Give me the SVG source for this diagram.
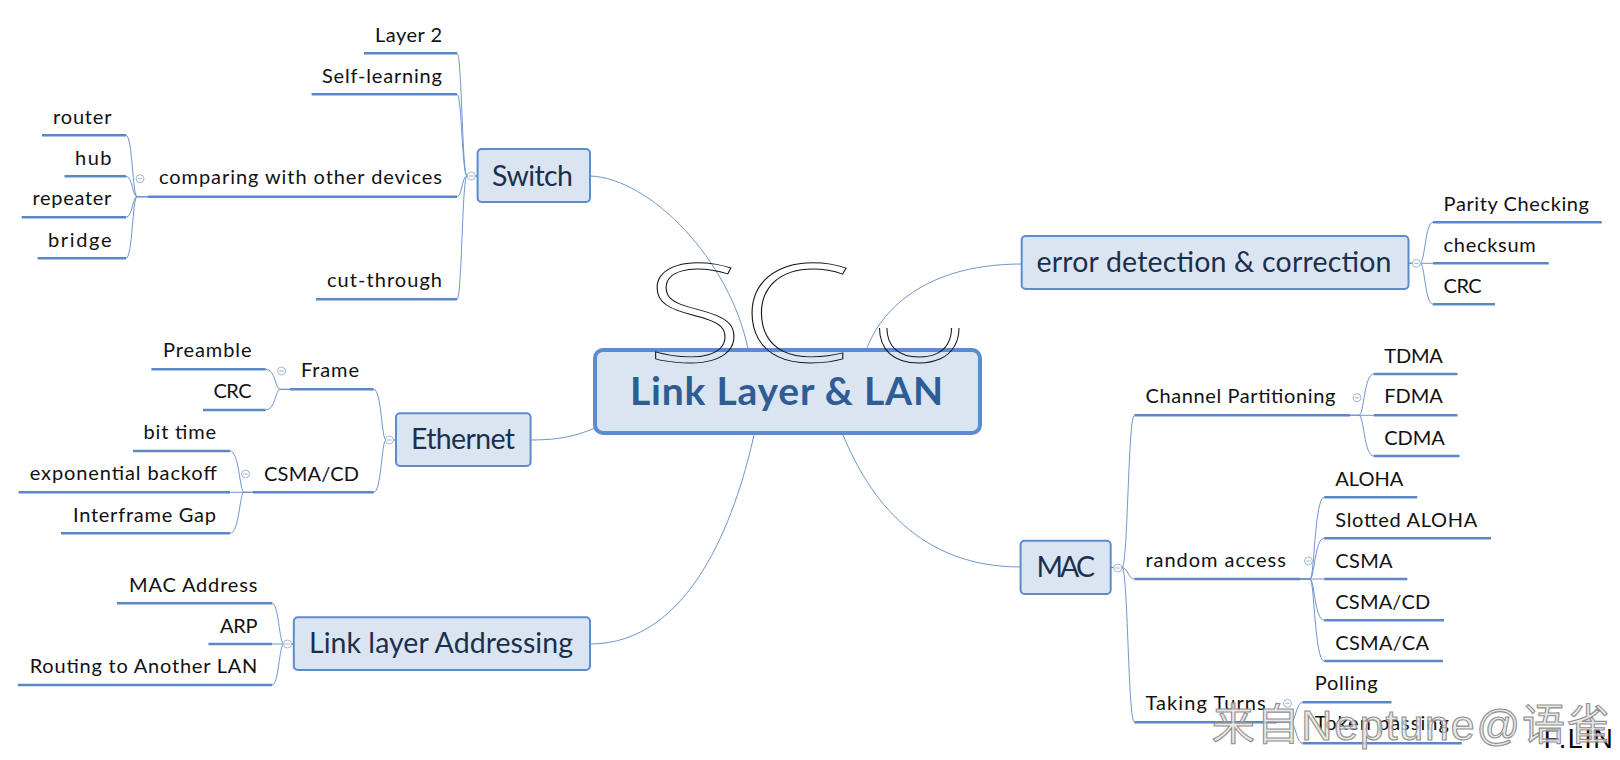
<svg xmlns="http://www.w3.org/2000/svg" width="1620" height="760" viewBox="0 0 1620 760">
<style>
.leaf{font-family:Lato,"Liberation Sans",sans-serif;font-size:20px;fill:#111}
.topic{font-family:Lato,"Liberation Sans",sans-serif;font-size:28.5px;fill:#1b2f4e}
.central{font-family:Lato,"Liberation Sans",sans-serif;font-size:39px;font-weight:bold;fill:#2e5c94}
.box{fill:#dbe5f1;stroke:#5d8cca;stroke-width:2}
.cbox{fill:#dbe5f1;stroke:#5b8bd0;stroke-width:4}
.ul{stroke:#5a87c5;stroke-width:2.6;fill:none}
.conn{stroke:#6f95cf;stroke-width:1;fill:none}
.btn circle{fill:#fff;stroke:#9fb5d6;stroke-width:1}
.btn line{stroke:#9fb5d6;stroke-width:1}
.scu{font-family:"Open Sans","Liberation Sans",sans-serif;font-size:137px;font-weight:300;fill:none;stroke:#111;stroke-width:1}
</style>
<defs>
<clipPath id="clipU"><rect x="850" y="328" width="130" height="60"/></clipPath>
</defs>
<rect width="1620" height="760" fill="#fff"/>
<g id="connectors" class="conn">
<path d="M590,176 C650,178 730,260 748,349"/>
<path d="M866.7,349 C877,320 915,264 1021.7,264"/>
<path d="M530.6,440 C560,440 576,436 595,428"/>
<path d="M754,435 C735,520 690,644 590,644"/>
<path d="M843,435 C870,500 920,567 1020.6,567"/>
<path d="M477.6,176 L467,176 C462,176 462,53.3 457,53.3"/>
<path d="M477.6,176 L467,176 C462,176 462,94.3 457,94.3"/>
<path d="M477.6,176 L467,176 C462,176 462,196.7 457,196.7"/>
<path d="M477.6,176 L467,176 C462,176 462,299.3 457,299.3"/>
<path d="M148,196.7 L137,196.7 C132.5,196.7 132.5,135.3 126,135.3"/>
<path d="M148,196.7 L137,196.7 C132.5,196.7 132.5,176.3 126,176.3"/>
<path d="M148,196.7 L137,196.7 C132.5,196.7 132.5,217.3 126,217.3"/>
<path d="M148,196.7 L137,196.7 C132.5,196.7 132.5,258.3 126,258.3"/>
<path d="M290,389.3 L280,389.3 C275.5,389.3 275.5,369.3 265.7,369.3"/>
<path d="M290,389.3 L280,389.3 C275.5,389.3 275.5,410 265.7,410"/>
<path d="M253,492.3 L244,492.3 C239.5,492.3 239.5,451 230,451"/>
<path d="M253,492.3 L230,492.3"/>
<path d="M253,492.3 L244,492.3 C239.5,492.3 239.5,533.3 230,533.3"/>
<path d="M396,440 L386,440 C381.5,440 381.5,389.3 373.7,389.3"/>
<path d="M396,440 L386,440 C381.5,440 381.5,492.3 373.7,492.3"/>
<path d="M293.8,644 L284,644 C279,644 279,603.3 272,603.3"/>
<path d="M293.8,644 L272,644"/>
<path d="M293.8,644 L284,644 C279,644 279,685 272,685"/>
<path d="M1408.5,263.3 L1420,263.3 C1425,263.3 1425,222.3 1433,222.3"/>
<path d="M1408.5,263.3 L1433,263.3"/>
<path d="M1408.5,263.3 L1420,263.3 C1425,263.3 1425,304.3 1433,304.3"/>
<path d="M1110.7,567.5 L1122,567.5 C1128,567.5 1128,415.3 1134.4,415.3"/>
<path d="M1110.7,567.5 L1122,567.5 C1128,567.5 1128,579 1134.4,579"/>
<path d="M1110.7,567.5 L1122,567.5 C1128,567.5 1128,722.3 1134.4,722.3"/>
<path d="M1350,415.3 L1359,415.3 C1364,415.3 1364,374 1373.7,374"/>
<path d="M1350,415.3 L1373.7,415.3"/>
<path d="M1350,415.3 L1359,415.3 C1364,415.3 1364,456 1373.7,456"/>
<path d="M1300.5,579 L1310,579 C1314.5,579 1314.5,497.3 1324.2,497.3"/>
<path d="M1300.5,579 L1310,579 C1314.5,579 1314.5,538.3 1324.2,538.3"/>
<path d="M1300.5,579 L1324.2,579"/>
<path d="M1300.5,579 L1310,579 C1314.5,579 1314.5,620.3 1324.2,620.3"/>
<path d="M1300.5,579 L1310,579 C1314.5,579 1314.5,661 1324.2,661"/>
<path d="M1276.8,722.3 L1290,722.3 C1296,722.3 1296,702.3 1302.5,702.3"/>
<path d="M1276.8,722.3 L1290,722.3 C1296,722.3 1296,743.3 1302.5,743.3"/>
</g>
<g id="central">
<rect class="cbox" x="595" y="350" width="385" height="83" rx="8"/>
<text class="central" x="630" y="405" textLength="313">Link Layer &amp; LAN</text>
</g>
<g id="switch"><rect class="box" x="477.6" y="149" width="112.4" height="53" rx="4"/><text class="topic" x="492" y="185.7" textLength="81">Switch</text></g>
<g id="ethernet"><rect class="box" x="396" y="413.3" width="134.6" height="52.7" rx="4"/><text class="topic" x="411" y="449.3" textLength="104">Ethernet</text></g>
<g id="lla"><rect class="box" x="293.8" y="617.3" width="296.2" height="52.7" rx="4"/><text class="topic" x="309" y="653.3" textLength="264">Link layer Addressing</text></g>
<g id="error"><rect class="box" x="1021.7" y="236" width="386.8" height="53" rx="4"/><text class="topic" x="1036.4" y="271.7" textLength="355">error detection &amp; correction</text></g>
<g id="mac"><rect class="box" x="1020.6" y="540.7" width="90.1" height="53.3" rx="4"/><text class="topic" x="1036.4" y="576.7" textLength="58.6">MAC</text></g>
<g id="leaf-layer2"><line class="ul" x1="364" y1="53.3" x2="457" y2="53.3"/><text class="leaf" x="375" y="41.7" textLength="67">Layer 2</text></g>
<g id="leaf-selflearning"><line class="ul" x1="311.6" y1="94.3" x2="457" y2="94.3"/><text class="leaf" x="322" y="83.3" textLength="120">Self-learning</text></g>
<g id="leaf-comparing"><line class="ul" x1="148" y1="196.7" x2="457" y2="196.7"/><text class="leaf" x="159" y="184" textLength="283">comparing with other devices</text></g>
<g id="leaf-cutthrough"><line class="ul" x1="316" y1="299.3" x2="457" y2="299.3"/><text class="leaf" x="327" y="287.3" textLength="115">cut-through</text></g>
<g id="leaf-router"><line class="ul" x1="42" y1="135.3" x2="126" y2="135.3"/><text class="leaf" x="53" y="124" textLength="58.5">router</text></g>
<g id="leaf-hub"><line class="ul" x1="64.5" y1="176.3" x2="126" y2="176.3"/><text class="leaf" x="75" y="165" textLength="36.5">hub</text></g>
<g id="leaf-repeater"><line class="ul" x1="21.7" y1="217.3" x2="126" y2="217.3"/><text class="leaf" x="32.4" y="205" textLength="79">repeater</text></g>
<g id="leaf-bridge"><line class="ul" x1="37.6" y1="258.3" x2="126" y2="258.3"/><text class="leaf" x="48" y="246.7" textLength="63.5">bridge</text></g>
<g id="leaf-frame"><line class="ul" x1="290" y1="389.3" x2="373.7" y2="389.3"/><text class="leaf" x="301" y="377.3" textLength="58">Frame</text></g>
<g id="leaf-csmacd-eth"><line class="ul" x1="253" y1="492.3" x2="373.7" y2="492.3"/><text class="leaf" x="264" y="480.7" textLength="95">CSMA/CD</text></g>
<g id="leaf-preamble"><line class="ul" x1="151.4" y1="369.3" x2="265.7" y2="369.3"/><text class="leaf" x="163" y="357.3" textLength="88.5">Preamble</text></g>
<g id="leaf-crc-frame"><line class="ul" x1="203" y1="410" x2="265.7" y2="410"/><text class="leaf" x="213.5" y="398.3" textLength="38">CRC</text></g>
<g id="leaf-bittime"><line class="ul" x1="133" y1="451" x2="230" y2="451"/><text class="leaf" x="143.5" y="439" textLength="72.5">bit time</text></g>
<g id="leaf-expbackoff"><line class="ul" x1="18.6" y1="492.3" x2="230" y2="492.3"/><text class="leaf" x="29.7" y="480" textLength="187">exponential backoff</text></g>
<g id="leaf-ifg"><line class="ul" x1="61" y1="533.3" x2="230" y2="533.3"/><text class="leaf" x="73" y="521.7" textLength="143">Interframe Gap</text></g>
<g id="leaf-macaddr"><line class="ul" x1="117" y1="603.3" x2="272" y2="603.3"/><text class="leaf" x="129" y="591.7" textLength="128.4">MAC Address</text></g>
<g id="leaf-arp"><line class="ul" x1="208.4" y1="644" x2="272" y2="644"/><text class="leaf" x="220" y="632.7" textLength="37.4">ARP</text></g>
<g id="leaf-routing"><line class="ul" x1="17.8" y1="685" x2="272" y2="685"/><text class="leaf" x="29.7" y="673.3" textLength="227.7">Routing to Another LAN</text></g>
<g id="leaf-parity"><line class="ul" x1="1433" y1="222.3" x2="1601.8" y2="222.3"/><text class="leaf" x="1443.6" y="210.7" textLength="145.4">Parity Checking</text></g>
<g id="leaf-checksum"><line class="ul" x1="1433" y1="263.3" x2="1548.8" y2="263.3"/><text class="leaf" x="1443.6" y="251.7" textLength="92.2">checksum</text></g>
<g id="leaf-crc-err"><line class="ul" x1="1433" y1="304.3" x2="1495" y2="304.3"/><text class="leaf" x="1443.6" y="293.3" textLength="38">CRC</text></g>
<g id="leaf-channel"><line class="ul" x1="1134.4" y1="415.3" x2="1350" y2="415.3"/><text class="leaf" x="1145.5" y="403.3" textLength="189.8">Channel Partitioning</text></g>
<g id="leaf-random"><line class="ul" x1="1134.4" y1="579" x2="1300.5" y2="579"/><text class="leaf" x="1145.5" y="567.3" textLength="140.4">random access</text></g>
<g id="leaf-taking"><line class="ul" x1="1134.4" y1="722.3" x2="1276.8" y2="722.3"/><text class="leaf" x="1145.5" y="710" textLength="120.2">Taking Turns</text></g>
<g id="leaf-tdma"><line class="ul" x1="1373.7" y1="374" x2="1457.5" y2="374"/><text class="leaf" x="1384.3" y="362.7" textLength="58.6">TDMA</text></g>
<g id="leaf-fdma"><line class="ul" x1="1373.7" y1="415.3" x2="1457.5" y2="415.3"/><text class="leaf" x="1384.3" y="403.3" textLength="58.6">FDMA</text></g>
<g id="leaf-cdma"><line class="ul" x1="1373.7" y1="456" x2="1459.5" y2="456"/><text class="leaf" x="1384.3" y="445" textLength="60.5">CDMA</text></g>
<g id="leaf-aloha"><line class="ul" x1="1324.2" y1="497.3" x2="1417.2" y2="497.3"/><text class="leaf" x="1335.3" y="486" textLength="68">ALOHA</text></g>
<g id="leaf-slotted"><line class="ul" x1="1324.2" y1="538.3" x2="1491.1" y2="538.3"/><text class="leaf" x="1335.3" y="526.7" textLength="142">Slotted ALOHA</text></g>
<g id="leaf-csma"><line class="ul" x1="1324.2" y1="579" x2="1407.3" y2="579"/><text class="leaf" x="1335.3" y="568.3" textLength="57.3">CSMA</text></g>
<g id="leaf-csmacd"><line class="ul" x1="1324.2" y1="620.3" x2="1444" y2="620.3"/><text class="leaf" x="1335.3" y="609" textLength="94.9">CSMA/CD</text></g>
<g id="leaf-csmaca"><line class="ul" x1="1324.2" y1="661" x2="1442.9" y2="661"/><text class="leaf" x="1335.3" y="650" textLength="93.7">CSMA/CA</text></g>
<g id="leaf-polling"><line class="ul" x1="1302.5" y1="702.3" x2="1391.5" y2="702.3"/><text class="leaf" x="1314.8" y="690" textLength="62.8">Polling</text></g>
<g id="leaf-token"><line class="ul" x1="1302.5" y1="743.3" x2="1461.8" y2="743.3"/><text class="leaf" x="1314.8" y="730" textLength="134">Token passing</text></g>
<g id="buttons" class="btn">
<circle cx="471.3" cy="176" r="4"/><line x1="469" y1="176" x2="473.6" y2="176"/>
<circle cx="140" cy="178.7" r="4"/><line x1="137.7" y1="178.7" x2="142.3" y2="178.7"/>
<circle cx="281.5" cy="371" r="4"/><line x1="279.2" y1="371" x2="283.8" y2="371"/>
<circle cx="245.5" cy="474" r="4"/><line x1="243.2" y1="474" x2="247.8" y2="474"/>
<circle cx="389.5" cy="440" r="4"/><line x1="387.2" y1="440" x2="391.8" y2="440"/>
<circle cx="287.5" cy="644" r="4"/><line x1="285.2" y1="644" x2="289.8" y2="644"/>
<circle cx="1416.4" cy="263.3" r="4"/><line x1="1414.1" y1="263.3" x2="1418.7" y2="263.3"/>
<circle cx="1117.8" cy="568" r="4"/><line x1="1115.5" y1="568" x2="1120.1" y2="568"/>
<circle cx="1357" cy="397.7" r="4"/><line x1="1354.7" y1="397.7" x2="1359.3" y2="397.7"/>
<circle cx="1308.4" cy="561" r="4"/><line x1="1306.1" y1="561" x2="1310.7" y2="561"/>
<circle cx="1287.5" cy="703.3" r="4"/><line x1="1285.2" y1="703.3" x2="1289.8" y2="703.3"/>
</g>
<g id="scu">
<text class="scu" transform="translate(646,362) scale(1.3,1)" vector-effect="non-scaling-stroke">S</text>
<text class="scu" transform="translate(741,362) scale(1.3,1)" vector-effect="non-scaling-stroke">C</text>
<g clip-path="url(#clipU)"><text class="scu" transform="translate(865.4,362) scale(1.09,1)" vector-effect="non-scaling-stroke">U</text></g>
</g>
<text x="1543.7" y="748" font-family="'Liberation Sans',Arial,sans-serif" font-size="27" fill="#000" textLength="69">F.LIN</text>
<text x="1211.7" y="740" font-family="'Liberation Sans','Noto Sans CJK SC',sans-serif" font-size="43" fill="#e4e4e4" fill-opacity="0.8" stroke="#8f8f8f" stroke-width="1.1" textLength="398">来自Neptune@语雀</text>
</svg>
